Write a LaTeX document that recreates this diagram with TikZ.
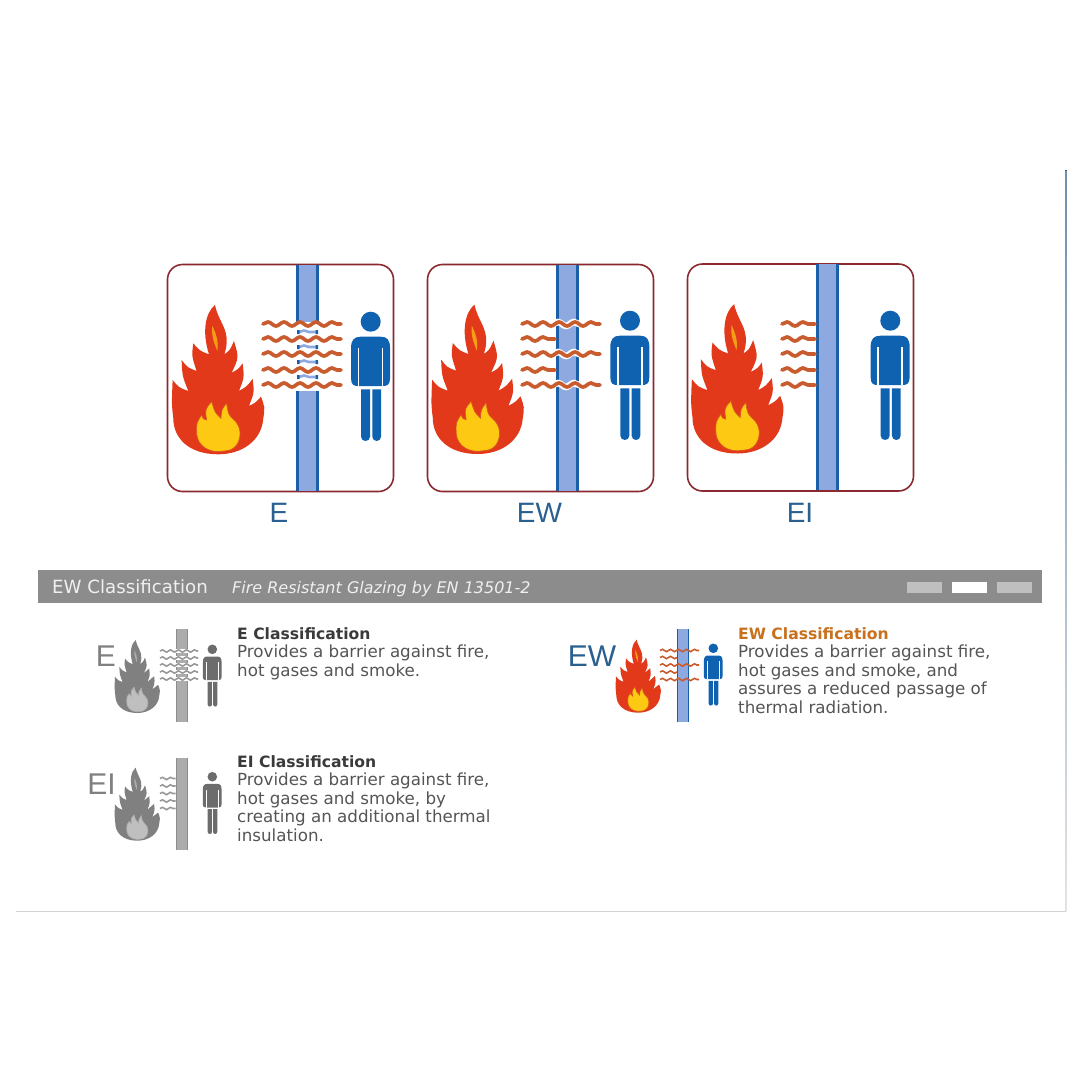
\documentclass[tikz,border=0pt]{standalone}
\usepackage{xcolor}
\usepackage{fontspec}
\setmainfont{DejaVu Sans}
\newfontfamily\labelfont{Liberation Sans}
\usetikzlibrary{decorations.pathmorphing}
\definecolor{fireRed}{HTML}{E2391B}
\definecolor{fireYellow}{HTML}{FDC913}
\definecolor{fireEdge}{HTML}{D9581E}
\definecolor{waveOrange}{HTML}{C95C2E}
\definecolor{paneBlue}{HTML}{8DA9E0}
\definecolor{edgeBlue}{HTML}{1B5FA9}
\definecolor{manBlue}{HTML}{0F62B0}
\definecolor{boxRed}{HTML}{8A2A30}
\definecolor{labelBlue}{HTML}{2A6090}
\definecolor{barGray}{HTML}{8C8C8C}
\definecolor{textGray}{HTML}{555555}
\definecolor{headDark}{HTML}{3A3A3A}
\definecolor{headOrange}{HTML}{C8701E}
\definecolor{frameTop}{HTML}{6F8FAD}
\definecolor{frameEnd}{HTML}{E2E4E6}
\newcommand{\flameoutline}{(0,0) .. controls (-90,0) and (-135,-50) .. (-135,-108)
  .. controls (-140,-150) .. (-137,-223) .. controls (-118,-200) .. (-90,-190)
  .. controls (-108,-235) .. (-110,-283) .. controls (-92,-260) .. (-65,-250)
  .. controls (-80,-295) .. (-75,-333) .. controls (-55,-310) .. (-28,-300)
  .. controls (-50,-370) and (-38,-425) .. (-10,-448)
  .. controls (0,-400) and (28,-380) .. (25,-335) .. controls (24,-320) .. (18,-300)
  .. controls (35,-312) .. (47,-340) .. controls (62,-290) .. (40,-245)
  .. controls (60,-255) .. (73,-273) .. controls (78,-230) .. (62,-190)
  .. controls (85,-203) .. (103,-226) .. controls (108,-185) .. (92,-145)
  .. controls (112,-155) .. (128,-173) .. controls (140,-140) .. (135,-108)
  .. controls (130,-40) and (70,0) .. (0,0) -- cycle}
\newcommand{\yellowoutline}{(0,-8) .. controls (-40,-8) and (-68,-35) .. (-65,-73)
  .. controls (-65,-95) .. (-50,-118) .. controls (-45,-105) .. (-35,-103)
  .. controls (-40,-135) .. (-20,-158) .. controls (-10,-125) .. (8,-108)
  .. controls (10,-135) .. (25,-153) .. controls (30,-120) .. (45,-105)
  .. controls (70,-85) and (70,-50) .. (55,-28) .. controls (40,-12) .. (0,-8) -- cycle}
\newcommand{\headfont}{\bfseries\fontsize{15.6}{18.5}\selectfont}
\begin{document}
\begin{tikzpicture}[
  x=1pt, y=-1pt,
  panelbox/.style={draw=boxRed, line width=1.6pt, rounded corners=15pt, fill=white,
                   minimum width=226pt, minimum height=227pt, inner sep=0pt},
  biglabel/.style={font=\labelfont\fontsize{28}{30}\selectfont, text=labelBlue, inner sep=0pt},
  smalllabel/.style={font=\labelfont\fontsize{30}{32}\selectfont, text=#1, inner sep=0pt},
  blurb/.style={anchor=north west, align=left, inner sep=0pt, text=textGray,
                font=\fontsize{16.7}{18.5}\selectfont},
  tab/.style={fill=#1, minimum width=35pt, minimum height=11pt, inner sep=0pt},
  bigwave/.style={draw=waveOrange, line width=3.7pt, line cap=round, decorate,
                  decoration={snake, segment length=16pt, amplitude=2pt}},
  halo/.style={draw=white, line width=6.5pt, decorate,
               decoration={snake, segment length=16pt, amplitude=2pt}},
  smallwave/.style={draw=#1, line width=1.6pt, decorate,
                    decoration={snake, segment length=8pt, amplitude=1.2pt}},
  pics/flame/.style n args={3}{code={
    \fill[#1] \flameoutline;
    \fill[#2, opacity=0.7] (-18,-385) .. controls (-22,-350) and (-8,-325) .. (-3,-310)
              .. controls (2,-340) and (-8,-365) .. (-18,-385) -- cycle;
    \draw[#3, line width=0.7pt, fill=#2] \yellowoutline;
  }},
  pics/man/.style={code={
    \fill[#1] (0,0) circle[radius=30];
    \fill[#1] (-59,80) .. controls (-59,55) and (-50,45) .. (-30,45) -- (30,45)
              .. controls (50,45) and (58,55) .. (58,80) -- (58,170)
              .. controls (58,190) and (48,193) .. (36,193) -- (-37,193)
              .. controls (-50,193) and (-59,190) .. (-59,170) -- cycle;
    \fill[white] (-39,80) rectangle (-34,194);
    \fill[white] (33,80) rectangle (38,194);
    \fill[#1] (-29,203) -- (-2,203) -- (-2,345) .. controls (-2,362) and (-29,362) .. (-29,345) -- cycle;
    \fill[#1] (5,203) -- (31,203) -- (31,345) .. controls (31,362) and (5,362) .. (5,345) -- cycle;
  }}
]
\useasboundingbox (0,0) rectangle (1080,1080);
\fill[white] (0,0) rectangle (1080,1080);

% page frame
\fill[top color=frameTop, bottom color=frameEnd] (1065.4,170) rectangle (1066.6,911);
\draw[gray!35, line width=1.1pt] (16,911.5) -- (1066,911.5);

% three big panels
\node[panelbox] (boxE) at (280.5,378) {};
\node[panelbox] (boxEW) at (540.5,378) {};
\node[panelbox] (boxEI) at (800.5,377.5) {};

% panes
\foreach \xp/\yt/\yb in {307.5/265/491, 567.5/265/491, 827.5/264/490}{
  \fill[paneBlue] (\xp-10,\yt) rectangle (\xp+10,\yb);
  \draw[edgeBlue, line width=2.4pt] (\xp-10,\yt) -- (\xp-10,\yb) (\xp+10,\yt) -- (\xp+10,\yb);
}
% E pane lets all of it through
\fill[white] (295,322) rectangle (320,391);
\foreach \yr in {332,347,362,377}{
  \draw[paneBlue, line width=2.6pt, decorate, decoration={snake, segment length=16pt, amplitude=1.5pt}] (299,\yr) -- (316,\yr);
  \fill[edgeBlue] (297,\yr-2) rectangle (299.5,\yr+2) (315.5,\yr-2) rectangle (318,\yr+2);
}
\foreach \yr in {324,339,354,370,385}
  \draw[bigwave] (263,\yr) -- (341,\yr);
% EW
\foreach \yr in {324,354,385}
  \draw[halo] (553,\yr) -- (585,\yr);
\foreach \yr in {324,354,385}
  \draw[bigwave] (522,\yr) -- (600,\yr);
\foreach \yr in {339,370}
  \draw[bigwave] (522,\yr) -- (555,\yr);
% EI
\foreach \yr in {324,339,354,370,385}
  \draw[bigwave] (782,\yr) -- (815,\yr);

\pic[scale=1/3] at (218.3,454.3) {flame={fireRed}{fireYellow}{fireEdge}};
\pic[scale=1/3] at (477.8,454) {flame={fireRed}{fireYellow}{fireEdge}};
\pic[scale=1/3] at (737.5,453.5) {flame={fireRed}{fireYellow}{fireEdge}};
\pic[scale=1/3] at (370.7,321.7) {man=manBlue};
\pic[scale=1/3] at (630,320.7) {man=manBlue};
\pic[scale=1/3] at (890.3,320.7) {man=manBlue};

\node[biglabel] (labE) at (279,513) {E};
\node[biglabel] (labEW) at (539.5,513) {EW};
\node[biglabel] (labEI) at (800,513) {EI};

% header bar
\node[fill=barGray, minimum width=1004pt, minimum height=33pt, inner sep=0pt] (bar) at (540,586.5) {};
\node[anchor=base west, inner sep=0pt, text=white!94!black, font=\fontsize{18.2}{20}\selectfont] (barTitle) at (52,593) {EW Classification};
\node[anchor=base west, inner sep=0pt, text=white!94!black, font=\itshape\fontsize{16}{18}\selectfont] (barSub) at (232,593) {Fire Resistant Glazing by EN 13501-2};
\node[tab=gray!50!white] (tabA) at (924.5,587.5) {};
\node[tab=white] (tabB) at (969.5,587.5) {};
\node[tab=gray!50!white] (tabC) at (1014.5,587.5) {};

% small E icon
\fill[gray!65] (176,629) rectangle (187.5,722);
\draw[gray!90, line width=1pt] (176.5,629) -- (176.5,722) (187,629) -- (187,722);
\foreach \yr in {651,658,665,672,679}{
  \draw[white, line width=3.5pt] (160,\yr) -- (198,\yr);
  \draw[smallwave=gray!80] (160,\yr) -- (198,\yr);
}
\pic[scale=0.163] at (137.3,713) {flame={gray}{gray!50}{gray!65}};
\pic[scale=0.16] at (212.3,649.3) {man=gray!85!black};
\node[smalllabel=gray] (iconE) at (106,656.5) {E};

% small EI icon
\fill[gray!65] (176,758) rectangle (187.5,850);
\draw[gray!90, line width=1pt] (176.5,758) -- (176.5,850) (187,758) -- (187,850);
\foreach \yr in {778.5,786,793.5,801,808.5}
  \draw[smallwave=gray!80] (160,\yr) -- (175.5,\yr);
\pic[scale=0.163] at (137.3,840.7) {flame={gray}{gray!50}{gray!65}};
\pic[scale=0.16] at (212.3,776.7) {man=gray!85!black};
\node[smalllabel=gray] (iconEI) at (101.5,784.5) {EI};

% small EW icon, the one in colour
\fill[paneBlue] (677,629) rectangle (688.5,722);
\draw[edgeBlue, line width=1pt] (677.5,629) -- (677.5,722) (688,629) -- (688,722);
\foreach \yr in {650.5,665,679.5}
  \draw[smallwave=waveOrange] (660,\yr) -- (699,\yr);
\foreach \yr in {657.5,672}
  \draw[smallwave=waveOrange] (660,\yr) -- (677,\yr);
\pic[scale=0.163] at (638.3,712.7) {flame={fireRed}{fireYellow}{fireEdge}};
\pic[scale=0.16] at (713.3,648.3) {man=manBlue};
\node[smalllabel=labelBlue] (iconEW) at (592,656.5) {EW};

% texts
\node[blurb] (textE) at (237,627) {{\headfont\color{headDark}E Classification}\\Provides a barrier against fire,\\hot gases and smoke.};
\node[blurb] (textEI) at (237,755) {{\headfont\color{headDark}EI Classification}\\Provides a barrier against fire,\\hot gases and smoke, by\\creating an additional thermal\\insulation.};
\node[blurb] (textEW) at (738,627) {{\headfont\color{headOrange}EW Classification}\\Provides a barrier against fire,\\hot gases and smoke, and\\assures a reduced passage of\\thermal radiation.};
\end{tikzpicture}
\end{document}
